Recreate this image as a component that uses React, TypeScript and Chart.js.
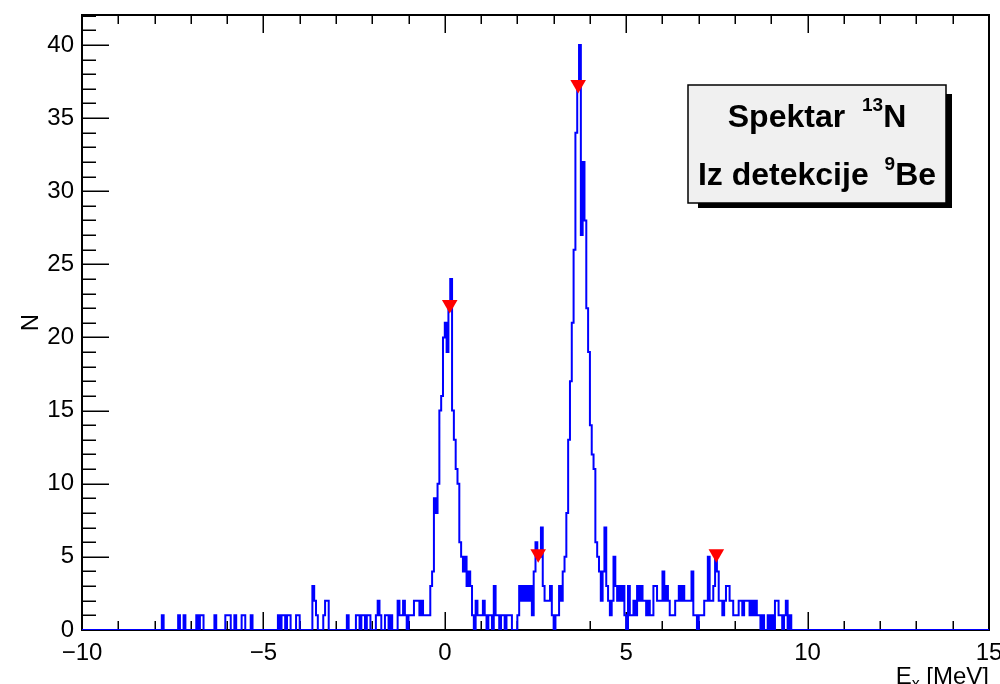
import { useEffect, useRef } from "react";
import { Chart, registerables } from "chart.js";

Chart.register(...registerables);

// Axis ranges
const X_MIN = -10;
const X_MAX = 15;
const Y_MIN = 0;
const Y_MAX = 42.05;
const X_STEP = 5;
const Y_STEP = 5;

// Histogram: bin width 0.05 MeV, counts per bin
const BIN_WIDTH = 0.05;

// -8.00 ... -4.00 MeV
const countsA = [
  0, 0, 0, 0, 1, 0, 0, 0, 0, 0, 0, 0, 0, 1, 0, 0, 1, 0, 0, 0,
  0, 0, 0, 1, 0, 1, 1, 0, 0, 0, 0, 0, 0, 1, 0, 0, 0, 0, 0, 1,
  1, 1, 0, 0, 1, 0, 0, 0, 1, 1, 0, 0, 0, 1, 0, 0, 0, 0, 0, 0,
  0, 0, 0, 0, 0, 0, 0, 0, 1, 0, 1, 1, 0, 1, 1, 0, 0, 0, 1, 1,
];
// -4.00 ... -1.00 MeV
const countsB = [
  0, 0, 0, 0, 0, 0, 0, 3, 2, 1, 0, 0, 0, 1, 2, 2, 0, 0, 0, 0,
  0, 0, 0, 0, 0, 0, 1, 0, 0, 0, 0, 1, 1, 0, 1, 1, 0, 1, 1, 0,
  0, 0, 1, 2, 1, 0, 0, 1, 1, 0, 1, 0, 0, 0, 2, 1, 1, 2, 1, 0,
];
// -1.00 ... 1.00 MeV (ground state peak)
const countsC = [
  1, 1, 1, 2, 2, 2, 1, 2, 1, 1, 1, 1, 3, 4, 9, 8, 10, 15, 16, 20,
  21, 19, 22, 24, 15, 13, 11, 10, 6, 5, 4, 5, 3, 4, 3, 1, 0, 2, 1, 1,
];
// 1.00 ... 3.00 MeV
const countsD = [
  1, 2, 1, 0, 1, 1, 0, 3, 1, 1, 0, 1, 1, 0, 1, 1, 1, 0, 0, 0,
  1, 3, 2, 3, 2, 3, 2, 3, 1, 4, 6, 5, 5, 7, 3, 2, 2, 2, 3, 1,
];
// 3.00 ... 5.00 MeV (main peak)
const countsE = [
  0, 1, 1, 3, 2, 4, 5, 8, 13, 17, 21, 26, 34, 37, 40, 27, 32, 28, 22, 19,
  14, 12, 11, 6, 5, 4, 2, 4, 7, 3, 2, 1, 2, 5, 3, 2, 3, 2, 3, 1,
];
// 5.00 ... 7.50 MeV
const countsF = [
  0, 3, 1, 1, 2, 1, 3, 2, 3, 2, 2, 1, 2, 1, 1, 3, 3, 2, 2, 2,
  4, 2, 3, 2, 1, 1, 1, 2, 2, 3, 2, 3, 2, 2, 2, 2, 4, 1, 1, 0,
  1, 1, 1, 2, 2, 5, 2, 2, 3, 5,
];
// 7.50 ... 10.00 MeV
const countsG = [
  4, 2, 2, 1, 2, 3, 3, 2, 2, 1, 1, 1, 2, 2, 1, 2, 2, 2, 1, 2,
  1, 2, 1, 1, 0, 1, 0, 0, 1, 0, 1, 0, 2, 2, 1, 1, 0, 1, 2, 0,
  1, 0, 0, 0, 0, 0, 0, 0, 0, 0,
];
const segmentStarts = [-8.0, -4.0, -1.0, 1.0, 3.0, 5.0, 7.5];
const segmentCounts = [countsA, countsB, countsC, countsD, countsE, countsF, countsG];
const HIST_END = 10.0;

// Peak markers found by the peak search
const peakX = [0.136, 2.574, 3.676, 7.485];
const peakY = [22.26, 5.22, 37.3, 5.22];

// Texts
const boxLine1 = { main: "Spektar ", sup: "13", tail: "N" };
const boxLine2 = { main: "Iz detekcije ", sup: "9", tail: "Be" };
const xTitle = { main: "E", sub: "x", tail: " [MeV]" };
const yTitle = "N";

const FONT = '"Liberation Sans", Arial, Helvetica, sans-serif';
const TICK_FONT_SIZE = 24;

function buildHistPoints() {
  const pts: { x: number; y: number }[] = [{ x: X_MIN, y: 0 }];
  segmentStarts.forEach((start, s) => {
    segmentCounts[s].forEach((c, i) => {
      pts.push({ x: Math.round((start + i * BIN_WIDTH) * 1000) / 1000, y: c });
    });
  });
  pts.push({ x: HIST_END, y: 0 });
  pts.push({ x: X_MAX, y: 0 });
  return pts;
}

const framePlugin = {
  id: "rootFrame",
  beforeDatasetsDraw(chart: any) {
    const { ctx, chartArea: a, scales } = chart;
    const xs = scales.x;
    const ys = scales.y;
    ctx.save();
    ctx.strokeStyle = "#000";
    ctx.lineWidth = 2;
    ctx.strokeRect(a.left, a.top, a.right - a.left, a.bottom - a.top);
    ctx.lineWidth = 1.5;
    ctx.beginPath();
    for (let v = X_MIN; v <= X_MAX; v += 1) {
      const px = Math.round(xs.getPixelForValue(v)) + 0.25;
      const len = v % X_STEP === 0 ? 18 : 9;
      ctx.moveTo(px, a.bottom);
      ctx.lineTo(px, a.bottom - len);
      ctx.moveTo(px, a.top);
      ctx.lineTo(px, a.top + len);
    }
    for (let v = Y_MIN; v <= Y_MAX; v += 1) {
      const py = Math.round(ys.getPixelForValue(v)) + 0.25;
      const len = v % Y_STEP === 0 ? 27 : 14;
      ctx.moveTo(a.left, py);
      ctx.lineTo(a.left + len, py);
    }
    ctx.stroke();
    ctx.restore();
  },
};

function drawRich(
  ctx: CanvasRenderingContext2D,
  parts: { text: string; size: number; dy: number; gap?: number }[],
  cx: number,
  baseline: number,
  bold: boolean,
  align: "center" | "right"
) {
  const w = parts.map((p) => {
    ctx.font = `${bold ? "bold " : ""}${p.size}px ${FONT}`;
    return ctx.measureText(p.text).width + (p.gap || 0);
  });
  const total = w.reduce((s, v) => s + v, 0);
  let x = align === "center" ? cx - total / 2 : cx - total;
  ctx.textAlign = "left";
  ctx.textBaseline = "alphabetic";
  parts.forEach((p, i) => {
    ctx.font = `${bold ? "bold " : ""}${p.size}px ${FONT}`;
    ctx.fillText(p.text, x, baseline + p.dy);
    x += w[i];
  });
}

const overlayPlugin = {
  id: "rootOverlay",
  afterDraw(chart: any) {
    const { ctx, chartArea: a } = chart;
    ctx.save();
    // Pave text box with shadow
    const bl = 688, bt = 85, br = 946, bb = 203;
    ctx.fillStyle = "#000";
    ctx.fillRect(698, 94, br + 6 - 698, bb + 5 - 94);
    ctx.fillStyle = "#f0f0f0";
    ctx.fillRect(bl, bt, br - bl, bb - bt);
    ctx.strokeStyle = "#000";
    ctx.lineWidth = 1.5;
    ctx.strokeRect(bl, bt, br - bl, bb - bt);
    ctx.fillStyle = "#000";
    const cx = (bl + br) / 2;
    drawRich(
      ctx,
      [
        { text: boxLine1.main, size: 32, dy: 0, gap: 8 },
        { text: boxLine1.sup, size: 19, dy: -16 },
        { text: boxLine1.tail, size: 32, dy: 0 },
      ],
      cx,
      127,
      true,
      "center"
    );
    drawRich(
      ctx,
      [
        { text: boxLine2.main, size: 32, dy: 0, gap: 7 },
        { text: boxLine2.sup, size: 19, dy: -15 },
        { text: boxLine2.tail, size: 32, dy: 0 },
      ],
      cx,
      185,
      true,
      "center"
    );
    // X axis title
    drawRich(
      ctx,
      [
        { text: xTitle.main, size: 24, dy: 0 },
        { text: xTitle.sub, size: 16, dy: 5 },
        { text: xTitle.tail, size: 24, dy: 0 },
      ],
      a.right,
      684,
      false,
      "right"
    );
    // Y axis title
    ctx.translate(38, (a.top + a.bottom) / 2);
    ctx.rotate(-Math.PI / 2);
    ctx.font = `24px ${FONT}`;
    ctx.textAlign = "center";
    ctx.textBaseline = "alphabetic";
    ctx.fillText(yTitle, 0, 0);
    ctx.restore();
  },
};

export default function App() {
  const ref = useRef<HTMLCanvasElement>(null);
  useEffect(() => {
    const canvas = ref.current;
    if (!canvas) return;
    const chart = new Chart(canvas, {
      type: "line",
      data: {
        datasets: [
          {
            label: "peaks",
            data: peakX.map((x, i) => ({ x, y: peakY[i] })),
            showLine: false,
            pointStyle: "triangle",
            pointRotation: 180,
            pointRadius: 9,
            pointBackgroundColor: "#ff0000",
            pointBorderColor: "#ff0000",
            pointBorderWidth: 0,
            order: 0,
          } as any,
          {
            label: "hist",
            data: buildHistPoints(),
            stepped: "before",
            borderColor: "#0000ff",
            borderWidth: 2,
            pointRadius: 0,
            fill: false,
            order: 1,
          } as any,
        ],
      },
      options: {
        animation: false,
        responsive: false,
        events: [],
        layout: { padding: { top: 15, right: 11, left: 0, bottom: 0 } },
        plugins: { legend: { display: false }, tooltip: { enabled: false } },
        scales: {
          x: {
            type: "linear",
            min: X_MIN,
            max: X_MAX,
            grid: { display: false, drawTicks: false },
            border: { display: false },
            ticks: {
              stepSize: X_STEP,
              maxRotation: 0,
              autoSkip: false,
              color: "#000",
              padding: 9,
              font: { family: FONT, size: TICK_FONT_SIZE },
              callback: (v: any) => String(v).replace("-", "\u2212"),
            },
            afterFit: (s: any) => {
              s.height = 54;
              s.paddingLeft = 0;
              s.paddingRight = 0;
            },
          },
          y: {
            type: "linear",
            min: Y_MIN,
            max: Y_MAX,
            grid: { display: false, drawTicks: false },
            border: { display: false },
            ticks: {
              stepSize: Y_STEP,
              includeBounds: false,
              color: "#000",
              padding: 8,
              font: { family: FONT, size: TICK_FONT_SIZE },
            },
            afterFit: (s: any) => {
              s.width = 82;
              s.paddingTop = 0;
              s.paddingBottom = 0;
            },
          },
        },
      } as any,
      plugins: [framePlugin, overlayPlugin],
    });
    return () => chart.destroy();
  }, []);
  return (
    <div style={{ position: "fixed", left: 0, top: 0, width: 1000, height: 684, background: "#fff" }}>
      <canvas ref={ref} width={1000} height={684} style={{ display: "block" }} />
    </div>
  );
}
